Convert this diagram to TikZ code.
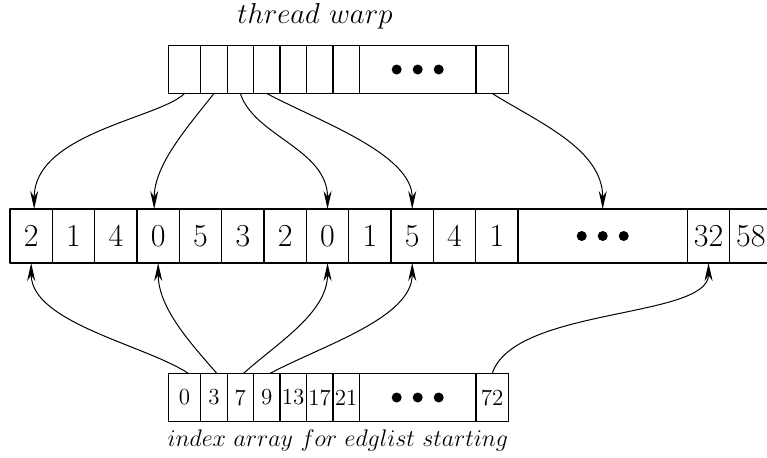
\documentclass[tikz,border=0pt]{standalone}
\usetikzlibrary{arrows.meta}
\tikzset{
  every picture/.style={line join=round, line cap=round, >=Stealth},
  cell/.style={draw, line width=0.6pt, inner sep=0pt, outer sep=0pt, anchor=west},
  warpcell/.style={cell, minimum height=24pt, minimum width=13.22pt},
  listcell/.style={cell, minimum height=27pt, minimum width=21.17pt, font=\fontsize{16}{19}\selectfont},
  idxcell/.style={cell, minimum height=24pt, minimum width=13.22pt, font=\fontsize{11.5}{13}\selectfont},
  link/.style={-{Stealth[length=9pt,width=4pt]}, line width=0.5pt},
}

\begin{document}
\begin{tikzpicture}[x=0.5pt,y=0.5pt]
\useasboundingbox (0,0) rectangle (767,457);
% captions
\node[anchor=base] (warptitle) at (315,433.7) {\fontsize{14.3}{17}\selectfont $thread\ warp$};
\node[anchor=base] (idxtitle) at (338,10.3) {\fontsize{11.5}{13}\selectfont $index\ array\ for\ edglist\ starting$};
% thread warp
\node[warpcell,minimum width=16.2pt] (w1) at (168.3,387.5) {};
\foreach \i [evaluate=\i as \j using int(\i-1)] in {2,...,7}
  \node[warpcell] (w\i) at (w\j.east) {};
\node[warpcell,minimum width=58.35pt] (wd) at (w7.east) {};
\node[warpcell,minimum width=16.2pt] (wl) at (wd.east) {};
% edge list
\coordinate (m0) at (10,221);
\foreach \v [count=\i, evaluate=\i as \j using int(\i-1)] in {2,1,4,0,5,3,2,0,1,5,4,1}
  \node[listcell] (m\i) at (m\j.east) {\v};
\node[listcell,minimum width=84.65pt] (md) at (m12.east) {};
\node[listcell] (m13) at (md.east) {32};
\node[listcell] (m14) at (m13.east) {58};
% index array
\node[idxcell,minimum width=16.2pt] (b1) at (168.3,59.5) {0};
\foreach \v [count=\i from 2, evaluate=\i as \j using int(\i-1)] in {3,7,9,13,17,21}
  \node[idxcell] (b\i) at (b\j.east) {\v};
\node[idxcell,minimum width=58.35pt] (bd) at (b7.east) {};
\node[idxcell,minimum width=16.2pt] (bl) at (bd.east) {72};
% dots
\foreach \n in {wd,md,bd}
  \foreach \dx in {-21,0,21}
    \fill ([xshift=\dx*0.5pt]\n.center) circle[radius=2.5pt];
% warp -> edge list
\draw[link] (w1.south) .. controls +(-135:35) and +(90:76) .. ([xshift=1.5pt]m1.north);
\draw[link] (w2.south) .. controls +(-128:40) and +(90:45) .. ([xshift=-2pt]m4.north);
\draw[link] (w3.south) .. controls +(-72:45) and +(90:60) .. (m8.north);
\draw[link] (w4.south) .. controls +(-28:60) and +(90:55) .. (m10.north);
\draw[link] (wl.south) .. controls +(-32:55) and +(90:60) .. (md.north);
% index array -> edge list
\draw[link] ([xshift=2pt]b1.north) .. controls +(146:50) and +(-90:60) .. (m1.south);
\draw[link] ([xshift=1.5pt]b2.north) .. controls +(131:40) and +(-90:45) .. (m4.south);
\draw[link] ([xshift=1.5pt]b3.north) .. controls +(42:45) and +(-90:50) .. (m8.south);
\draw[link] ([xshift=1.5pt]b4.north) .. controls +(28:60) and +(-90:55) .. (m10.south);
\draw[link] (bl.north) .. controls +(72:70) and +(-90:56) .. (m13.south);
\end{tikzpicture}
\end{document}
